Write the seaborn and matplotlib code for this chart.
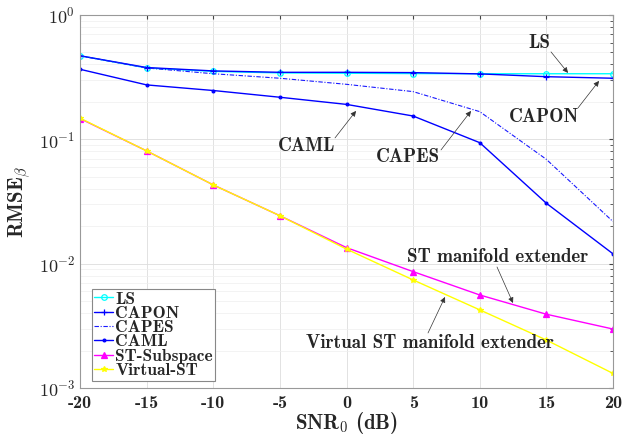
import numpy as np
import pandas as pd
import matplotlib
matplotlib.use("Agg")
import matplotlib.pyplot as plt
import matplotlib.ticker as mticker
import seaborn as sns

snr = [-20, -15, -10, -5, 0, 5, 10, 15, 20]
ls_vals = [0.47, 0.375, 0.352, 0.342, 0.340, 0.338, 0.337, 0.337, 0.337]
capon_vals = [0.47, 0.378, 0.355, 0.346, 0.346, 0.344, 0.336, 0.319, 0.310]
capes_vals = [0.47, 0.375, 0.337, 0.310, 0.277, 0.242, 0.167, 0.069, 0.0218]
caml_vals = [0.366, 0.274, 0.247, 0.218, 0.191, 0.154, 0.094, 0.0306, 0.0120]
st_vals = [0.147, 0.0807, 0.043, 0.0243, 0.01346, 0.00863, 0.0056, 0.00392, 0.00298]
vst_vals = [0.148, 0.0807, 0.043, 0.0243, 0.0131, 0.0074, 0.00425, 0.00243, 0.00131]

names = ["LS", "CAPON", "CAPES", "CAML", "ST-Subspace", "Virtual-ST"]
series = [ls_vals, capon_vals, capes_vals, caml_vals, st_vals, vst_vals]
colors = ["#00ffff", "#0000ff", "#1a1aff", "#0000ff", "#ff00ff", "#ffff00"]
markers = ["o", "+", "", ".", "^", "*"]
msizes = [4, 4, 0, 4, 4, 4]
styles = ["-", "-", (0, (4, 1.5, 1, 1.5)), "-", "-", "-"]
widths = [1.0, 1.0, 0.8, 1.0, 1.0, 1.0]

sns.set_style("white")
plt.rcParams["font.family"] = ["cmb10", "DejaVu Serif"]
plt.rcParams["mathtext.fontset"] = "cm"
plt.rcParams["axes.unicode_minus"] = False
plt.rcParams["axes.formatter.use_mathtext"] = True

fig = plt.figure(figsize=(6.44, 4.43), dpi=100)
ax = fig.add_axes([80/644, 1-388/443, 533/644, 373/443])

for name, vals, c, m, ms, ls, lw in zip(names, series, colors, markers, msizes, styles, widths):
    df = pd.DataFrame({"snr": snr, "v": vals})
    kw = dict(marker=m, markersize=ms, markerfacecolor="none" if m == "o" else c,
              markeredgecolor=c, markeredgewidth=0.9) if m else {}
    sns.lineplot(data=df, x="snr", y="v", ax=ax, color=c, linestyle=ls,
                 linewidth=lw, label=name, sort=False, **kw)

ax.set_yscale("log")
ax.set_xlim(-20, 20)
ax.set_ylim(1e-3, 1)
ax.set_xticks(snr)
ax.set_xticklabels([str(s) for s in snr])
ax.yaxis.set_major_formatter(mticker.FuncFormatter(
    lambda v, p: r"$\mathbf{10^{%d}}$" % int(round(np.log10(v)))))
ax.yaxis.set_minor_locator(mticker.LogLocator(base=10, subs=np.arange(2, 10), numticks=20))
ax.yaxis.set_minor_formatter(mticker.NullFormatter())
ax.grid(True, which="major", color="#dddddd", linewidth=0.6)
ax.grid(True, which="minor", axis="y", color="#eeeeee", linewidth=0.5)
ax.tick_params(direction="in", which="both", top=True, right=True, labelsize=13,
               color="#444444", length=3)
ax.tick_params(which="minor", length=2)
ax.tick_params(axis="x", pad=6)
for s in ax.spines.values():
    s.set_color("#999999")
    s.set_linewidth(0.8)

ax.set_xlabel(r"SNR$_\mathbf{0}$ (dB)", fontsize=15, labelpad=-1)
ax.set_ylabel(r"RMSE$_\beta$", fontsize=15, labelpad=4)

leg = ax.legend(loc="lower left", bbox_to_anchor=(0.022, 0.02), borderaxespad=0,
                fontsize=12.5, handlelength=1.1, handletextpad=0.1, labelspacing=-0.05,
                borderpad=0.15, fancybox=False, framealpha=1, edgecolor="#888888")
leg.get_frame().set_linewidth(0.8)

def px2data(px, py):
    x = -20 + (px - 80) * 40 / 533
    y = 10 ** (-3 + (388 - py) / 124.3)
    return x, y

annots = [
    ("LS", (539, 43), (551, 52), (568, 73)),
    ("CAPON", (544, 117), (578, 108), (599, 81)),
    ("CAML", (307, 146), (335, 138), (356, 111)),
    ("CAPES", (408, 157), (441, 150), (471, 111)),
    ("ST manifold extender", (498, 257), (497, 267), (513, 303)),
    ("Virtual ST manifold extender", (430, 343), (428, 333), (445, 297)),
]
for txt, tpos, tail, tip in annots:
    ax.text(*px2data(*tpos), txt, ha="center", va="center", fontsize=13.7)
    ax.annotate("", xy=px2data(*tip), xytext=px2data(*tail),
                arrowprops=dict(arrowstyle="-|>", color="#333333", lw=0.5,
                                mutation_scale=8, shrinkA=0, shrinkB=0))

fig.savefig("out.png", dpi=100)
